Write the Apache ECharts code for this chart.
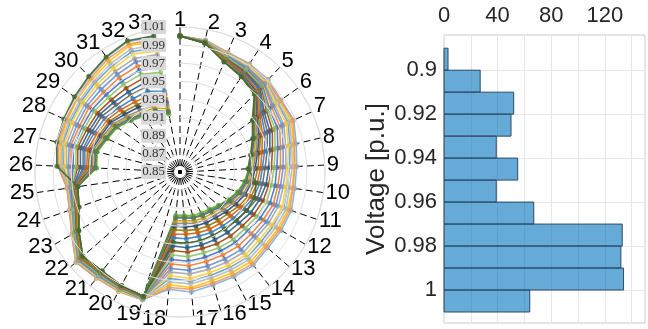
<!DOCTYPE html>
<html>
<head>
<meta charset="utf-8">
<script src="https://cdn.jsdelivr.net/npm/echarts@6/dist/echarts.min.js"></script>
<style>
  html, body { margin: 0; padding: 0; background: #fff; }
  #chart { width: 648px; height: 329px; }
</style>
</head>
<body>
<div id="chart"></div>
<script>
// bus numbers round the polar plot
const busLabels = ['1', '2', '3', '4', '5', '6', '7', '8', '9', '10', '11', '12', '13', '14', '15', '16', '17',
  '18', '19', '20', '21', '22', '23', '24', '25', '26', '27', '28', '29', '30', '31', '32', '33'];

// hourly voltage profiles [p.u.], bus 1..33
const h01 = [1.000, 0.998, 0.990, 0.990, 0.988, 0.982, 0.981, 0.975, 0.971, 0.970, 0.971, 0.969, 0.968, 0.970, 0.969, 0.969, 0.971, 0.968, 0.996, 0.997, 0.998, 1.001, 0.987, 0.977, 0.974, 0.979, 0.983, 0.983, 0.984, 0.986, 0.989, 0.993, 0.990];
const h02 = [1.000, 0.997, 0.988, 0.986, 0.984, 0.974, 0.971, 0.964, 0.961, 0.959, 0.959, 0.956, 0.954, 0.954, 0.953, 0.953, 0.954, 0.952, 0.996, 0.996, 0.996, 0.999, 0.985, 0.975, 0.972, 0.970, 0.974, 0.972, 0.973, 0.972, 0.974, 0.976, 0.972];
const h03 = [1.000, 0.997, 0.989, 0.988, 0.986, 0.978, 0.976, 0.970, 0.967, 0.965, 0.965, 0.963, 0.961, 0.963, 0.962, 0.962, 0.963, 0.961, 0.996, 0.996, 0.997, 1.000, 0.986, 0.976, 0.973, 0.975, 0.979, 0.978, 0.979, 0.980, 0.982, 0.985, 0.982];
const h04 = [1.000, 0.998, 0.991, 0.991, 0.990, 0.985, 0.985, 0.979, 0.976, 0.975, 0.976, 0.975, 0.974, 0.976, 0.975, 0.975, 0.978, 0.975, 0.997, 0.998, 0.998, 1.001, 0.987, 0.978, 0.975, 0.982, 0.986, 0.987, 0.989, 0.991, 0.995, 1.000, 0.997];
const h05 = [1.000, 0.997, 0.988, 0.985, 0.982, 0.971, 0.968, 0.961, 0.957, 0.956, 0.955, 0.952, 0.949, 0.949, 0.948, 0.948, 0.949, 0.947, 0.995, 0.995, 0.995, 0.998, 0.984, 0.975, 0.971, 0.968, 0.971, 0.969, 0.969, 0.968, 0.969, 0.971, 0.967];
const h06 = [1.000, 0.995, 0.982, 0.976, 0.970, 0.949, 0.939, 0.931, 0.926, 0.922, 0.917, 0.911, 0.906, 0.902, 0.901, 0.900, 0.898, 0.898, 0.993, 0.992, 0.990, 0.993, 0.980, 0.969, 0.965, 0.942, 0.944, 0.938, 0.935, 0.928, 0.923, 0.920, 0.915];
const h07 = [1.000, 0.996, 0.986, 0.982, 0.978, 0.964, 0.959, 0.952, 0.948, 0.946, 0.943, 0.940, 0.936, 0.935, 0.934, 0.934, 0.934, 0.932, 0.995, 0.994, 0.993, 0.996, 0.983, 0.973, 0.969, 0.960, 0.963, 0.960, 0.959, 0.956, 0.955, 0.956, 0.952];
const h08 = [1.000, 0.996, 0.986, 0.983, 0.980, 0.967, 0.962, 0.955, 0.951, 0.949, 0.947, 0.944, 0.941, 0.940, 0.939, 0.938, 0.939, 0.937, 0.995, 0.994, 0.994, 0.997, 0.983, 0.973, 0.970, 0.963, 0.966, 0.963, 0.962, 0.960, 0.960, 0.961, 0.957];
const h09 = [1.000, 0.996, 0.985, 0.981, 0.977, 0.962, 0.956, 0.949, 0.944, 0.942, 0.940, 0.935, 0.932, 0.930, 0.929, 0.929, 0.929, 0.928, 0.994, 0.994, 0.993, 0.996, 0.982, 0.972, 0.968, 0.957, 0.960, 0.957, 0.956, 0.952, 0.951, 0.951, 0.946];
const h10 = [1.000, 0.996, 0.983, 0.978, 0.973, 0.956, 0.948, 0.940, 0.936, 0.933, 0.930, 0.925, 0.920, 0.918, 0.917, 0.916, 0.915, 0.914, 0.994, 0.992, 0.991, 0.994, 0.981, 0.970, 0.966, 0.951, 0.953, 0.948, 0.946, 0.941, 0.938, 0.937, 0.932];
const h11 = [1.000, 0.995, 0.983, 0.978, 0.972, 0.954, 0.946, 0.938, 0.933, 0.930, 0.926, 0.921, 0.917, 0.914, 0.913, 0.912, 0.911, 0.910, 0.994, 0.992, 0.991, 0.993, 0.980, 0.970, 0.966, 0.948, 0.951, 0.946, 0.944, 0.938, 0.935, 0.933, 0.928];
const h12 = [1.000, 0.995, 0.981, 0.975, 0.969, 0.948, 0.938, 0.930, 0.925, 0.935, 0.937, 0.935, 0.932, 0.930, 0.929, 0.929, 0.929, 0.928, 0.993, 0.991, 0.989, 0.992, 0.979, 0.968, 0.964, 0.986, 0.990, 0.991, 0.993, 0.996, 1.001, 1.006, 1.003];
const h13 = [1.000, 0.998, 0.992, 0.992, 0.991, 0.987, 0.988, 0.982, 0.979, 0.978, 0.980, 0.979, 0.978, 0.981, 0.980, 0.980, 0.983, 0.980, 0.997, 0.998, 0.999, 1.002, 0.988, 0.979, 0.976, 0.985, 0.989, 0.990, 0.992, 0.995, 1.000, 1.005, 1.002];
const h14 = [1.000, 0.998, 0.992, 0.991, 0.990, 0.986, 0.987, 0.980, 0.977, 0.976, 0.978, 0.977, 0.976, 0.979, 0.978, 0.978, 0.980, 0.978, 0.997, 0.998, 0.999, 1.002, 0.988, 0.979, 0.976, 0.984, 0.988, 0.988, 0.990, 0.993, 0.998, 1.002, 0.999];
const h15 = [1.000, 0.998, 0.991, 0.990, 0.989, 0.983, 0.983, 0.977, 0.974, 0.972, 0.974, 0.972, 0.971, 0.973, 0.972, 0.972, 0.974, 0.972, 0.997, 0.997, 0.998, 1.001, 0.987, 0.978, 0.975, 0.981, 0.984, 0.985, 0.986, 0.988, 0.992, 0.996, 0.993];
const h16 = [1.000, 0.997, 0.990, 0.989, 0.987, 0.980, 0.979, 0.973, 0.969, 0.968, 0.969, 0.967, 0.965, 0.967, 0.966, 0.966, 0.968, 0.965, 0.996, 0.997, 0.997, 1.000, 0.986, 0.977, 0.974, 0.977, 0.981, 0.981, 0.982, 0.983, 0.986, 0.990, 0.986];
const h17 = [1.000, 0.997, 0.989, 0.987, 0.985, 0.976, 0.974, 0.967, 0.964, 0.962, 0.962, 0.960, 0.958, 0.959, 0.958, 0.958, 0.959, 0.957, 0.996, 0.996, 0.996, 0.999, 0.985, 0.976, 0.973, 0.973, 0.976, 0.975, 0.976, 0.976, 0.978, 0.981, 0.978];
const h18 = [1.000, 0.997, 0.987, 0.984, 0.981, 0.969, 0.965, 0.958, 0.954, 0.952, 0.951, 0.948, 0.945, 0.945, 0.944, 0.943, 0.944, 0.942, 0.995, 0.995, 0.994, 0.997, 0.984, 0.974, 0.970, 0.965, 0.968, 0.966, 0.966, 0.964, 0.965, 0.966, 0.962];
const h19 = [1.000, 0.996, 0.984, 0.980, 0.976, 0.960, 0.953, 0.946, 0.941, 0.939, 0.936, 0.931, 0.928, 0.926, 0.925, 0.924, 0.924, 0.923, 0.994, 0.993, 0.992, 0.995, 0.982, 0.971, 0.968, 0.955, 0.958, 0.954, 0.952, 0.948, 0.946, 0.946, 0.941];
const h20 = [1.000, 0.996, 0.984, 0.979, 0.974, 0.958, 0.950, 0.943, 0.939, 0.936, 0.933, 0.928, 0.924, 0.922, 0.921, 0.920, 0.919, 0.919, 0.994, 0.993, 0.991, 0.995, 0.981, 0.971, 0.967, 0.953, 0.955, 0.951, 0.949, 0.945, 0.942, 0.941, 0.937];
const h21 = [1.000, 0.995, 0.982, 0.977, 0.971, 0.952, 0.944, 0.936, 0.931, 0.928, 0.924, 0.918, 0.914, 0.911, 0.910, 0.909, 0.907, 0.907, 0.993, 0.992, 0.990, 0.993, 0.980, 0.969, 0.965, 0.947, 0.949, 0.944, 0.941, 0.935, 0.931, 0.929, 0.925];
const h22 = [1.000, 0.995, 0.982, 0.976, 0.971, 0.951, 0.942, 0.934, 0.929, 0.926, 0.921, 0.916, 0.911, 0.908, 0.907, 0.906, 0.904, 0.904, 0.993, 0.991, 0.990, 0.993, 0.980, 0.969, 0.965, 0.945, 0.947, 0.942, 0.939, 0.933, 0.928, 0.926, 0.921];
const h23 = [1.000, 0.995, 0.981, 0.976, 0.970, 0.950, 0.940, 0.932, 0.927, 0.924, 0.920, 0.914, 0.909, 0.905, 0.904, 0.903, 0.901, 0.901, 0.993, 0.991, 0.989, 0.992, 0.979, 0.968, 0.964, 0.944, 0.946, 0.940, 0.937, 0.931, 0.926, 0.923, 0.918];
const h24 = [1.000, 0.995, 0.981, 0.975, 0.969, 0.949, 0.939, 0.931, 0.926, 0.923, 0.918, 0.912, 0.907, 0.904, 0.903, 0.902, 0.900, 0.900, 0.993, 0.991, 0.989, 0.992, 0.979, 0.968, 0.964, 0.943, 0.945, 0.939, 0.936, 0.929, 0.925, 0.922, 0.917];

// histogram of all bus voltages
const binEdges = [0.89, 0.90, 0.91, 0.92, 0.93, 0.94, 0.95, 0.96, 0.97, 0.98, 0.99, 1.00, 1.01];
const binCounts = [3, 27, 52, 50, 39, 55, 39, 67, 133, 132, 134, 64];
const voltageTicks = [0.9, 0.92, 0.94, 0.96, 0.98, 1];

const hours = [h01, h02, h03, h04, h05, h06, h07, h08, h09, h10, h11, h12,
  h13, h14, h15, h16, h17, h18, h19, h20, h21, h22, h23, h24];
const colors = ['#5B9BD5', '#ED7D31', '#A5A5A5', '#FFC000', '#4472C4', '#70AD47',
  '#255E91', '#9E480E', '#636363', '#997300', '#264478', '#43682B',
  '#7CAFDD', '#F1975A', '#B7B7B7', '#FFCD33', '#698ED0', '#8CC168',
  '#327DC2', '#D26012', '#848484', '#CC9A00', '#3A5DAE', '#5A8A39'];

const chart = echarts.init(document.getElementById('chart'));

// labels near the vertical get nudged sideways (left/right padding), like the original
const labelNudge = { '2': 6, '16': 13, '17': 13, '18': -12, '19': -10, '33': -12 };
const angleData = busLabels.map(b => {
  const n = labelNudge[b];
  if (!n) return b;
  return { value: b, textStyle: { padding: [-10, n < 0 ? -2 * n : 0, -6, n > 0 ? 2 * n : 0] } };
});

const polarSeries = hours.map((vals, i) => ({
  name: 'Hour ' + (i + 1),
  type: 'line',
  coordinateSystem: 'polar',
  // close the loop: bus 33 back to bus 1
  data: vals.map((v, k) => [v, k]).concat([[vals[0], 0]]),
  symbol: 'circle',
  symbolSize: 5,
  lineStyle: { color: colors[i], width: 1.6, opacity: 0.9 },
  itemStyle: { color: colors[i], opacity: 0.75 },
  z: i === 11 ? 4 : 2,
  silent: true
}));

const histData = binCounts.map((c, i) => [binEdges[i], binEdges[i + 1], c]);

const option = {
  animation: false,
  backgroundColor: '#fff',
  polar: { center: [180, 172], radius: 145 },
  angleAxis: {
    type: 'category',
    data: angleData,
    boundaryGap: false,
    startAngle: 90,
    clockwise: true,
    axisLine: { show: true, lineStyle: { color: '#d6d6d6', width: 1 } },
    axisTick: { show: false },
    axisLabel: {
      interval: 0,
      margin: 2,
      fontFamily: 'Liberation Sans',
      fontSize: 22,
      color: '#000',
      padding: [-10, 0, -6, 0]
    },
    splitLine: { show: true, interval: 0, lineStyle: { color: '#000', type: [7, 4], width: 1 } }
  },
  radiusAxis: {
    type: 'value',
    min: 0.85,
    max: 1.01,
    interval: 0.02,
    z: 10,
    axisLine: { show: false },
    axisTick: { show: false },
    axisLabel: {
      margin: 14,
      fontFamily: 'Liberation Serif',
      fontSize: 13,
      color: '#333',
      backgroundColor: '#d9d9d9',
      padding: [1, 1, 0, 1],
      formatter: v => v.toFixed(2)
    },
    splitLine: { show: true, lineStyle: { color: '#e0e0e0', width: 1 } }
  },
  grid: {
    left: 444, top: 35, right: -1.5, bottom: 6,
    show: true, borderColor: '#c8c8c8', borderWidth: 1
  },
  xAxis: {
    type: 'value',
    position: 'top',
    min: 0,
    max: 150,
    interval: 20,
    axisLine: { show: false },
    axisTick: { show: false },
    axisLabel: {
      margin: 8,
      fontFamily: 'Liberation Sans',
      fontSize: 22,
      color: '#262626',
      formatter: v => (v % 40 === 0 ? String(v) : '')
    },
    splitLine: { show: true, lineStyle: { color: '#e6e6e6' } }
  },
  yAxis: {
    type: 'value',
    inverse: true,
    min: 0.884,
    max: 1.015,
    name: 'Voltage [p.u.]',
    nameLocation: 'middle',
    nameGap: 34,
    nameTextStyle: { fontFamily: 'Liberation Sans', fontSize: 26, color: '#262626' },
    axisLine: { show: false },
    axisTick: { show: false, customValues: voltageTicks },
    axisLabel: {
      customValues: voltageTicks,
      margin: 7,
      fontFamily: 'Liberation Sans',
      fontSize: 22,
      color: '#262626',
      formatter: v => String(+v.toFixed(2))
    },
    splitLine: { show: true, lineStyle: { color: '#e6e6e6' } }
  },
  series: polarSeries.concat([{
    type: 'custom',
    xAxisIndex: 0,
    yAxisIndex: 0,
    encode: { x: 2, y: [0, 1] },
    data: histData,
    renderItem: function (params, api) {
      const p0 = api.coord([0, api.value(0)]);
      const p1 = api.coord([api.value(2), api.value(1)]);
      return {
        type: 'rect',
        shape: {
          x: p0[0],
          y: Math.min(p0[1], p1[1]),
          width: p1[0] - p0[0],
          height: Math.abs(p1[1] - p0[1])
        },
        style: { fill: 'rgba(0,114,189,0.6)', stroke: '#2f4a63', lineWidth: 1 }
      };
    }
  }])
};

chart.setOption(option);
</script>
</body>
</html>
